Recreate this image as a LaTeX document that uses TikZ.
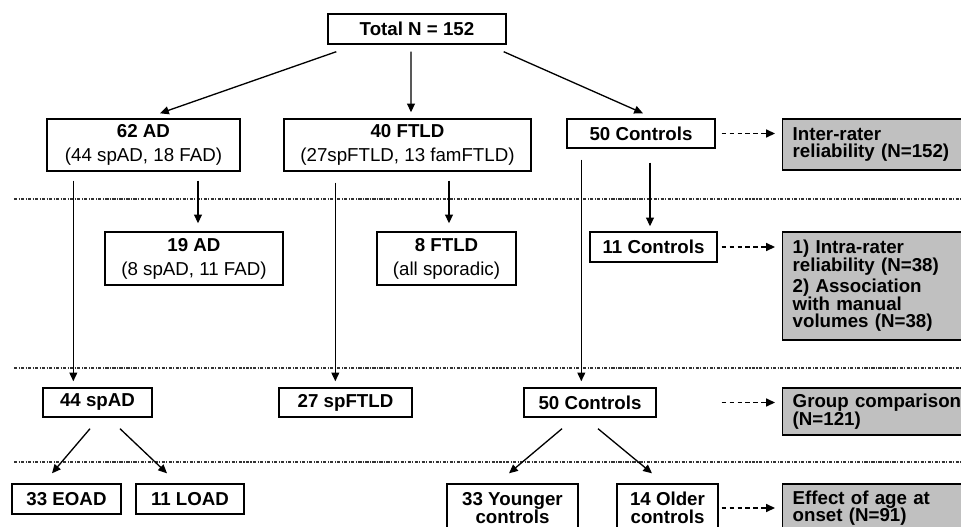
\documentclass[tikz,border=0pt]{standalone}
\usepackage{fontspec}
\setmainfont{Liberation Sans}
\usetikzlibrary{arrows.meta,calc}
\definecolor{boxgray}{RGB}{192,192,192}
\begin{document}
\begin{tikzpicture}[x=0.02cm,y=-0.02cm,
  wbox/.style={draw, line width=0.8pt, inner sep=0pt, align=center, font=\fontsize{10.65pt}{13.6pt}\selectfont\bfseries},
  tight/.style={font=\fontsize{10.65pt}{10.2pt}\selectfont\bfseries},
  gbox/.style={draw, line width=0.8pt, fill=boxgray, inner xsep=0.2cm, inner ysep=0pt, text width=3.46cm, align=left, anchor=west, font=\fontsize{10.65pt}{10pt}\selectfont\bfseries},
  arr/.style={line width=0.75pt, -{Triangle[length=5pt,width=4.5pt]}},
  darr/.style={arr, dash pattern=on 2.5pt off 2pt},
  sepline/.style={line width=0.7pt, draw=black!80, dash pattern=on 1.8pt off 0.8pt on 0.6pt off 0.8pt}]
\path[use as bounding box] (0,0) rectangle (961,527);
\clip (0,0) rectangle (961,527);

% separators
\coordinate (s1a) at (14,199); \coordinate (s1b) at (961,199);
\coordinate (s2a) at (14,368); \coordinate (s2b) at (961,368);
\coordinate (s3a) at (14,462); \coordinate (s3b) at (961,462);
\draw[sepline] (s1a) -- (s1b);
\draw[sepline] (s2a) -- (s2b);
\draw[sepline] (s3a) -- (s3b);

% white boxes
\node[wbox, minimum width=3.56cm, minimum height=0.6cm] (total) at (417,29) {Total N = 152};
\node[wbox, minimum width=3.86cm, minimum height=1.04cm] (ad62) at (143.5,145) {62 AD\\{\mdseries (44 spAD, 18 FAD)}};
\node[wbox, minimum width=4.94cm, minimum height=1.04cm] (ftld40) at (407.5,145) {40 FTLD\\{\mdseries (27spFTLD, 13 famFTLD)}};
\node[wbox, minimum width=2.96cm, minimum height=0.58cm] (ctl50a) at (641,133.5) {50 Controls};
\node[wbox, minimum width=3.56cm, minimum height=1.06cm] (ad19) at (194,258.5) {19 AD\\{\mdseries (8 spAD, 11 FAD)}};
\node[wbox, minimum width=2.78cm, minimum height=1.06cm] (ftld8) at (446.5,258.5) {8 FTLD\\{\mdseries (all sporadic)}};
\node[wbox, minimum width=2.54cm, minimum height=0.6cm] (ctl11) at (653.5,247) {11 Controls};
\node[wbox, minimum width=2.18cm, minimum height=0.58cm] (spad44) at (97.5,402.5) {44 spAD};
\node[wbox, minimum width=2.66cm, minimum height=0.58cm] (spftld27) at (345.5,402.5) {27 spFTLD};
\node[wbox, minimum width=2.64cm, minimum height=0.58cm] (ctl50b) at (590,402.5) {50 Controls};
\node[wbox, minimum width=2.18cm, minimum height=0.6cm] (eoad) at (66.5,499) {33 EOAD};
\node[wbox, minimum width=2.16cm, minimum height=0.6cm] (load) at (190,499) {11 LOAD};
\node[wbox, tight, minimum width=2.62cm, minimum height=0.96cm] (young) at (512.5,508) {33 Younger\\controls};
\node[wbox, tight, minimum width=2.02cm, minimum height=0.96cm] (older) at (667.5,508) {14 Older\\controls};

% grey boxes
\node[gbox, minimum height=1.02cm] (inter) at (782,144.5) {Inter-rater\\reliability (N=152)};
\node[gbox, minimum height=2.16cm] (intra) at (782,286) {1) Intra-rater\\reliability (N=38)\\[2pt]2) Association\\with manual\\volumes (N=38)};
\node[gbox, minimum height=0.94cm] (group) at (782,411.5) {Group comparison\\(N=121)};
\node[gbox, minimum height=0.96cm] (age) at (782,508) {Effect of age at\\onset (N=91)};

% connectors
\draw[arr] ($(total.south west)+(9,7)$) -- ($(ad62.north)+(16.5,-5)$);
\draw[arr] ($(total.south)+(-6,7)$) -- ($(ftld40.north)+(3.5,-6)$);
\draw[arr] ($(total.south east)+(-3,7)$) -- ($(ctl50a.north)+(2,-5)$);
\draw[darr] ($(ctl50a.east)+(6,0)$) -- ($(ctl50a.east -| inter.west)+(-7,0)$);

\draw[arr] ($(ad62.south west)+(27,9)$) -- ($(ad62.south west |- spad44.north)+(27,-6)$);
\draw[arr] ($(ad19.north |- ad62.south)+(4,9)$) -- ($(ad19.north)+(4,-8)$);
\draw[arr] ($(ftld8.north |- ftld40.south)+(2.5,9)$) -- ($(ftld8.north)+(2.5,-8)$);
\draw[arr] ($(ftld40.south west)+(52,11)$) -- ($(ftld40.south west |- spftld27.north)+(52,-6)$);
\draw[arr] ($(ctl50a.south west)+(15,11)$) -- ($(ctl50a.south west |- ctl50b.north)+(15,-6)$);
\draw[arr] ($(ctl11.north |- ctl50a.south)+(-3.5,14)$) -- ($(ctl11.north)+(-3.5,-5)$);
\draw[darr] ($(ctl11.east)+(4,0)$) -- ($(ctl11.east -| intra.west)+(-7,0)$);
\draw[darr] ($(ctl50b.east -| ctl50a.east)+(6,0)$) -- ($(ctl50b.east -| group.west)+(-7,0)$);

\draw[arr] ($(spad44.south)+(-7.5,11)$) -- ($(eoad.north)+(-14.5,-10)$);
\draw[arr] ($(spad44.south)+(22.5,11)$) -- ($(load.north)+(-23,-10)$);
\draw[arr] ($(ctl50b.south)+(-28,11)$) -- ($(young.north)+(-3.5,-10)$);
\draw[arr] ($(ctl50b.south)+(8,11)$) -- ($(older.north)+(-15.5,-10)$);
\draw[darr] ($(older.east)+(3,0)$) -- ($(older.east -| age.west)+(-7,0)$);
\end{tikzpicture}
\end{document}
